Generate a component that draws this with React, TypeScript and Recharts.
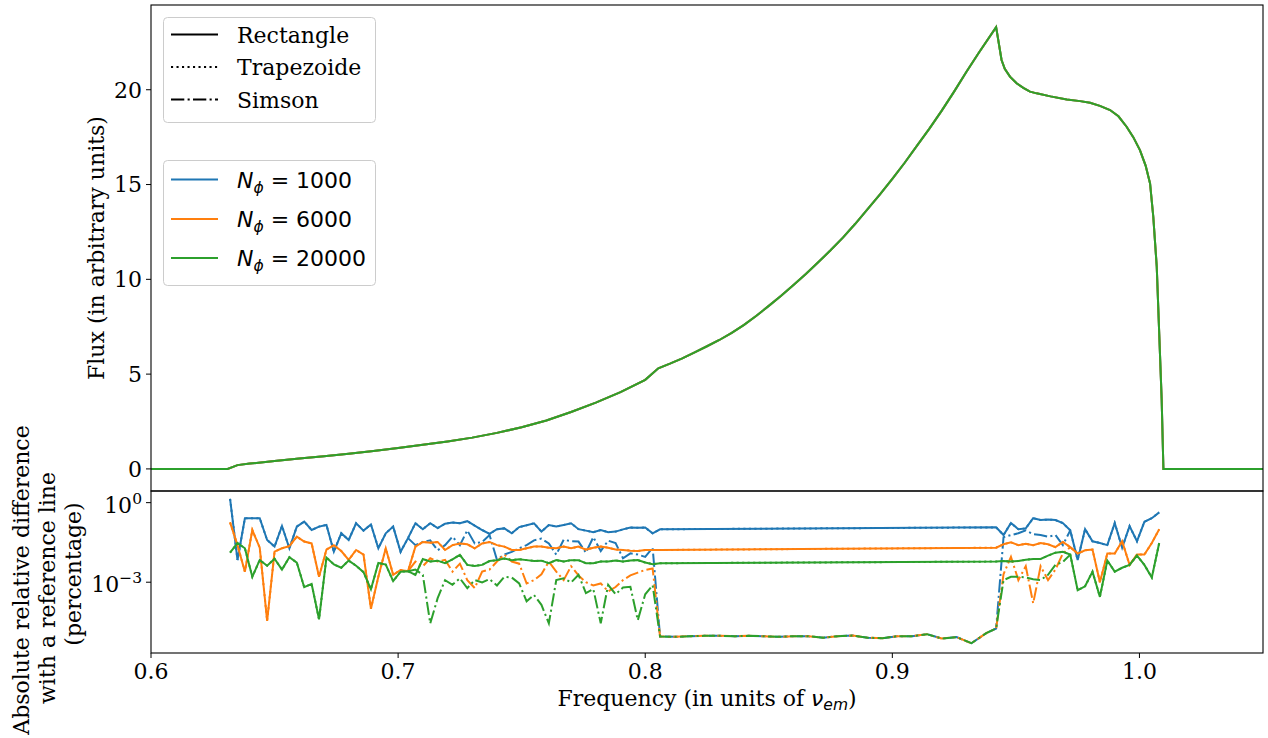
import React from "react";
import { LineChart, Line, XAxis, YAxis } from "recharts";

// ---- top panel: flux profile (the nine curves coincide, green is drawn last)
const fluxFreq = [
  0.6, 0.631, 0.635, 0.64, 0.65, 0.66, 0.67, 0.68, 0.69, 0.7, 0.71, 0.72, 0.73, 0.74, 0.75, 0.76, 0.77, 0.78, 0.79,
  0.8, 0.8053, 0.81, 0.815, 0.82, 0.825, 0.83, 0.835, 0.84, 0.845, 0.85, 0.855, 0.86, 0.865, 0.87, 0.875, 0.88, 0.885,
  0.89, 0.895, 0.9, 0.905, 0.91, 0.915, 0.92, 0.925, 0.93, 0.935, 0.942, 0.9442, 0.9455, 0.9476, 0.9503, 0.953,
  0.9557, 0.9584, 0.964, 0.9706, 0.976, 0.98, 0.984, 0.9881, 0.9915, 0.9948, 0.9975, 1.0002, 1.0025, 1.0043, 1.0056,
  1.007, 1.008, 1.009, 1.0097, 1.05,
];
const fluxValue = [
  0, 0, 0.2, 0.28, 0.42, 0.55, 0.67, 0.8, 0.94, 1.1, 1.27, 1.45, 1.65, 1.9, 2.2, 2.55, 3.0, 3.5, 4.05, 4.7, 5.31,
  5.55, 5.83, 6.15, 6.47, 6.8, 7.18, 7.6, 8.08, 8.6, 9.13, 9.7, 10.28, 10.9, 11.53, 12.2, 12.93, 13.7, 14.48, 15.3,
  16.15, 17.05, 17.95, 18.9, 19.9, 20.95, 21.95, 23.3, 21.57, 21.1, 20.69, 20.34, 20.1, 19.9, 19.81, 19.65, 19.49,
  19.4, 19.31, 19.15, 18.93, 18.6, 18.05, 17.5, 16.82, 16.0, 15.06, 13.3, 10.67, 7.15, 3.63, 0, 0,
];

// ---- bottom panel: relative differences (log scale)
const freqLow = [
  0.632, 0.635, 0.638, 0.641, 0.644, 0.647, 0.65, 0.653, 0.656, 0.659, 0.662, 0.665, 0.668, 0.671, 0.674, 0.677,
  0.68, 0.683, 0.686, 0.689, 0.692, 0.695, 0.698, 0.701, 0.704, 0.707, 0.71, 0.713, 0.716, 0.719, 0.722, 0.725,
  0.728, 0.731, 0.734, 0.737, 0.74, 0.743, 0.746, 0.749, 0.752, 0.755, 0.758, 0.761, 0.764, 0.767, 0.77, 0.773,
  0.776, 0.779, 0.782, 0.785, 0.788, 0.791, 0.794, 0.797, 0.8, 0.803, 0.806,
];
const freqMid = [
  0.812, 0.818, 0.824, 0.83, 0.836, 0.842, 0.848, 0.854, 0.86, 0.866, 0.872, 0.878, 0.884, 0.89, 0.896, 0.902, 0.908,
  0.914, 0.92, 0.926, 0.932, 0.938,
];
const freqHigh = [
  0.942, 0.945, 0.948, 0.951, 0.954, 0.957, 0.96, 0.963, 0.966, 0.969, 0.972, 0.975, 0.978, 0.981, 0.984, 0.987, 0.99,
  0.993, 0.996, 0.999, 1.002, 1.005, 1.008,
];

// Rectangle rule (Trapezoide gives the same values for this periodic integrand)
const rectBlueLow = [
  1.4, 0.0069, 0.257, 0.26, 0.257, 0.039, 0.022, 0.132, 0.019, 0.125, 0.193, 0.093, 0.125, 0.144, 0.0142, 0.07, 0.039,
  0.167, 0.088, 0.15, 0.019, 0.07, 0.125, 0.014, 0.046, 0.167, 0.1, 0.167, 0.11, 0.16, 0.18, 0.167, 0.2, 0.135, 0.093,
  0.066, 0.1, 0.107, 0.07, 0.12, 0.14, 0.167, 0.081, 0.144, 0.125, 0.144, 0.167, 0.1, 0.088, 0.077, 0.093, 0.077,
  0.081, 0.098, 0.115, 0.112, 0.115, 0.07, 0.099,
];
const rectOrangeLow = [
  0.18, 0.025, 0.0025, 0.093, 0.02, 3.5e-5, 0.0142, 0.019, 0.023, 0.052, 0.034, 0.029, 0.0016, 0.017, 0.025, 0.015,
  0.0069, 0.0164, 0.011, 1.0e-4, 0.0016, 0.019, 0.0019, 0.0029, 0.0026, 0.022, 0.033, 0.031, 0.033, 0.0164, 0.025,
  0.029, 0.027, 0.019, 0.029, 0.033, 0.025, 0.022, 0.0164, 0.0164, 0.019, 0.022, 0.022, 0.02, 0.019, 0.022, 0.019,
  0.022, 0.017, 0.02, 0.022, 0.02, 0.017, 0.0164, 0.0155, 0.015, 0.0164, 0.0164, 0.0164,
];
const rectGreenLow = [
  0.013, 0.03, 0.019, 0.0016, 0.0069, 0.0042, 0.0077, 0.003, 0.0087, 0.0055, 6.5e-4, 8.6e-4, 4.0e-5, 0.0085, 0.0047,
  0.0035, 0.0065, 0.0042, 0.0024, 5.4e-4, 0.0053, 0.0046, 0.0011, 0.0025, 0.0026, 0.0019, 0.0075, 0.006, 0.0065,
  0.0052, 0.0073, 0.0107, 0.0045, 0.0041, 0.0045, 0.0063, 0.0068, 0.0078, 0.0068, 0.0074, 0.0068, 0.0063, 0.0065,
  0.0052, 0.0068, 0.006, 0.0068, 0.0068, 0.0052, 0.0052, 0.006, 0.006, 0.0066, 0.006, 0.0066, 0.0068, 0.0055, 0.0048,
  0.0052,
];
const rectBlueHigh = [
  0.117, 0.06, 0.17, 0.1, 0.107, 0.26, 0.22, 0.23, 0.22, 0.17, 0.09, 0.0069, 0.1, 0.035, 0.03, 0.025, 0.17, 0.02, 0.13,
  0.035, 0.19, 0.26, 0.43,
];
const rectOrangeHigh = [
  0.02, 0.027, 0.032, 0.025, 0.028, 0.025, 0.03, 0.027, 0.021, 0.033, 0.021, 0.012, 0.016, 0.017, 0.001, 0.012, 0.012,
  0.035, 0.0045, 0.011, 0.011, 0.03, 0.1,
];
const rectGreenHigh = [
  0.006, 0.0063, 0.006, 0.0063, 0.007, 0.0075, 0.0075, 0.01, 0.013, 0.014, 0.011, 5e-4, 7e-4, 0.0025, 2.8e-4, 0.0066,
  0.0025, 0.0035, 0.0045, 0.01, 0.0045, 0.0015, 0.03,
];

// Simson rule: leaves the Rectangle curves at freqLow[24] and rejoins them at freqHigh[10]
const SIMP_START = 24;
const simpBlueLow = [
  0.046, 0.025, 0.033, 0.038, 0.016, 0.025, 0.052, 0.025, 0.09, 0.029, 0.033, 0.06, 0.007, 0.011, 0.014, 0.019, 0.025,
  0.038, 0.044, 0.029, 0.011, 0.04, 0.035, 0.034, 0.013, 0.05, 0.015, 0.037, 0.03, 0.008, 0.0123, 0.011, 0.009, 0.02,
  9e-6,
];
const simpOrangeLow = [
  0.0026, 0.006, 0.004, 0.008, 0.006, 0.007, 0.0025, 0.005, 0.0012, 0.0006, 0.0025, 0.003, 0.006, 0.011, 0.006, 0.005,
  0.0009, 0.0012, 0.002, 0.006, 0.0025, 0.0012, 0.004, 0.0018, 0.001, 0.00075, 0.0009, 0.00045, 0.00066, 0.0012,
  0.0018, 0.0023, 0.0029, 0.0033, 9e-6,
];
const simpGreenLow = [
  0.0026, 0.003, 0.0019, 2.8e-5, 2.5e-4, 0.0012, 8e-4, 0.0014, 6e-4, 0.0012, 9.8e-4, 0.0013, 7.5e-4, 0.0016, 0.0015,
  9e-4, 1.9e-4, 3.3e-4, 1.4e-4, 2.8e-5, 0.0012, 0.0014, 9.8e-4, 0.0019, 3.9e-4, 5.5e-4, 2.8e-5, 8e-4, 3.5e-4, 6.3e-4,
  6.7e-4, 3.7e-5, 3.5e-4, 7.7e-4, 9e-6,
];
// the three Simson curves coincide between 0.81 and 0.94
const simpsonMid = [
  8.7e-6, 9.2e-6, 9.5e-6, 9.5e-6, 9.2e-6, 9.5e-6, 9.2e-6, 8.7e-6, 9.2e-6, 9.2e-6, 8.1e-6, 9.2e-6, 9.7e-6, 8.1e-6,
  7.7e-6, 9.2e-6, 9.2e-6, 1.1e-5, 7.5e-6, 8.5e-6, 5e-6, 1.2e-5,
];
const simpBlueHigh = [1.8e-5, 0.05, 0.06, 0.07, 0.09, 0.065, 0.06, 0.052, 0.06, 0.025, 0.09];
const simpOrangeHigh = [1.8e-5, 0.002, 0.009, 0.0012, 0.004, 1.6e-4, 0.004, 0.0012, 0.003, 0.012, 0.021];
const simpGreenHigh = [1.8e-5, 0.0012, 0.0016, 0.0016, 0.0015, 0.0013, 0.0012, 0.0019, 0.0045, 0.0058, 0.011];

const xTicks = [0.6, 0.7, 0.8, 0.9, 1.0];
const fluxTicks = [0, 5, 10, 15, 20];
const diffTicks = [1e-3, 1];
const nLabels = ["1000", "6000", "20000"];
const methodLabels = ["Rectangle", "Trapezoide", "Simson"];
const diffLabelLines = ["Absolute relative difference", "with a reference line", "(percentage)"];

const BLUE = "#1f77b4";
const ORANGE = "#ff7f0e";
const GREEN = "#2ca02c";
const SERIF = "'DejaVu Serif', serif";
const SANS = "'DejaVu Sans', sans-serif";
const FS = 22;
const DOT = "2.1 3.4";
const DASHDOT = "13.3 3.3 2.1 3.3";

const fluxData = fluxFreq.map((f, i) => ({ f, flux: fluxValue[i] }));

const diffData = [
  ...freqLow.map((f, i) => ({
    f,
    rb: rectBlueLow[i],
    ro: rectOrangeLow[i],
    rg: rectGreenLow[i],
    sb: i >= SIMP_START ? simpBlueLow[i - SIMP_START] : null,
    so: i >= SIMP_START ? simpOrangeLow[i - SIMP_START] : null,
    sg: i >= SIMP_START ? simpGreenLow[i - SIMP_START] : null,
  })),
  ...freqMid.map((f, i) => ({
    f,
    rb: null,
    ro: null,
    rg: null,
    sb: simpsonMid[i],
    so: simpsonMid[i],
    sg: simpsonMid[i],
  })),
  ...freqHigh.map((f, i) => ({
    f,
    rb: rectBlueHigh[i],
    ro: rectOrangeHigh[i],
    rg: rectGreenHigh[i],
    sb: i < simpBlueHigh.length ? simpBlueHigh[i] : null,
    so: i < simpOrangeHigh.length ? simpOrangeHigh[i] : null,
    sg: i < simpGreenHigh.length ? simpGreenHigh[i] : null,
  })),
];

const tickStyle = { fontFamily: SERIF, fontSize: FS, fill: "#000" };

function LogTick(props: any) {
  const { x, y, payload } = props;
  const exp = Math.round(Math.log10(payload.value));
  return (
    <text x={x} y={y + 10} textAnchor="end" fontFamily={SERIF} fontSize={FS} fill="#000">
      10
      <tspan dy={-9} fontSize={15.5}>
        {exp === 0 ? "0" : "\u2212" + Math.abs(exp)}
      </tspan>
    </text>
  );
}

function Overlay() {
  const legendY1 = [34.5, 67, 99.5];
  const legendY2 = [179.5, 219, 258];
  const dashes = [undefined, DOT, DASHDOT];
  const colors = [BLUE, ORANGE, GREEN];
  const labelCenters = [580, 588, 574];
  return (
    <svg width={1268} height={738} style={{ position: "absolute", left: 0, top: 0, pointerEvents: "none" }}>
      <rect x={151} y={5} width={1112} height={486} fill="none" stroke="#000" strokeWidth={1.1} />
      <rect x={151} y={491} width={1112} height={162} fill="none" stroke="#000" strokeWidth={1.1} />

      <text transform="translate(104,248) rotate(-90)" textAnchor="middle" fontFamily={SERIF} fontSize={FS}>
        Flux (in arbitrary units)
      </text>
      {diffLabelLines.map((s, i) => (
        <text
          key={s}
          transform={`translate(${29 + i * 26},${labelCenters[i]}) rotate(-90)`}
          textAnchor="middle"
          fontFamily={SERIF}
          fontSize={FS}
        >
          {s}
        </text>
      ))}
      <text x={707} y={706} textAnchor="middle" fontFamily={SERIF} fontSize={FS}>
        Frequency (in units of{" "}
        <tspan fontFamily={SANS} fontStyle="italic">
          ν
        </tspan>
        <tspan fontFamily={SANS} fontStyle="italic" fontSize={15.5} dy={4}>
          em
        </tspan>
        <tspan dy={-4}>)</tspan>
      </text>

      <rect x={163.5} y={17.5} width={212} height={105} rx={4} fill="#fff" fillOpacity={0.8} stroke="#ccc" />
      {methodLabels.map((m, i) => (
        <g key={m}>
          <line x1={171} x2={218} y1={legendY1[i]} y2={legendY1[i]} stroke="#000" strokeWidth={2} strokeDasharray={dashes[i]} />
          <text x={237} y={legendY1[i] + 8} fontFamily={SERIF} fontSize={FS}>
            {m}
          </text>
        </g>
      ))}

      <rect x={163.5} y={160.5} width={212} height={125} rx={4} fill="#fff" fillOpacity={0.8} stroke="#ccc" />
      {nLabels.map((n, i) => (
        <g key={n}>
          <line x1={171} x2={218} y1={legendY2[i]} y2={legendY2[i]} stroke={colors[i]} strokeWidth={2} />
          <text x={237} y={legendY2[i] + 8} fontFamily={SANS} fontSize={FS}>
            <tspan fontStyle="italic">N</tspan>
            <tspan fontStyle="italic" fontSize={15.5} dy={5}>
              ϕ
            </tspan>
            <tspan dy={-5}>{" = " + n}</tspan>
          </text>
        </g>
      ))}
    </svg>
  );
}

export default function App() {
  return (
    <div
      style={{
        position: "absolute",
        left: 0,
        top: 0,
        width: 1268,
        height: 738,
        overflow: "hidden",
        background: "#fff",
      }}
    >
      <div style={{ position: "absolute", left: 0, top: 0 }}>
        <LineChart width={1268} height={500} data={fluxData} margin={{ top: 5, right: 5, left: 0, bottom: 9 }}>
          <XAxis dataKey="f" type="number" domain={[0.6, 1.05]} allowDataOverflow hide />
          <YAxis
            type="number"
            domain={[-1.165, 24.47]}
            ticks={fluxTicks}
            allowDataOverflow
            width={151}
            axisLine={false}
            tickLine={{ stroke: "#000" }}
            tickSize={5}
            tickMargin={4}
            tick={tickStyle}
            interval={0}
          />
          <Line dataKey="flux" stroke={BLUE} strokeWidth={2} dot={false} isAnimationActive={false} />
          <Line dataKey="flux" stroke={ORANGE} strokeWidth={2} dot={false} isAnimationActive={false} />
          <Line dataKey="flux" stroke={GREEN} strokeWidth={2} dot={false} isAnimationActive={false} />
        </LineChart>
      </div>
      <div style={{ position: "absolute", left: 0, top: 480 }}>
        <LineChart width={1268} height={258} data={diffData} margin={{ top: 11, right: 5, left: 0, bottom: 0 }}>
          <XAxis
            dataKey="f"
            type="number"
            domain={[0.6, 1.05]}
            allowDataOverflow
            ticks={xTicks}
            interval={0}
            tickFormatter={(v: number) => v.toFixed(1)}
            height={85}
            axisLine={false}
            tickLine={{ stroke: "#000" }}
            tickSize={5}
            tickMargin={5}
            tick={tickStyle}
          />
          <YAxis
            type="number"
            scale="log"
            domain={[2.14e-6, 2.75]}
            allowDataOverflow
            ticks={diffTicks}
            interval={0}
            width={151}
            axisLine={false}
            tickLine={{ stroke: "#000" }}
            tickSize={5}
            tickMargin={4}
            tick={<LogTick />}
          />
          <Line dataKey="rb" stroke={BLUE} strokeWidth={2} dot={false} connectNulls isAnimationActive={false} />
          <Line dataKey="rb" stroke={BLUE} strokeWidth={2} strokeDasharray={DOT} dot={false} connectNulls isAnimationActive={false} />
          <Line dataKey="sb" stroke={BLUE} strokeWidth={2} strokeDasharray={DASHDOT} dot={false} isAnimationActive={false} />
          <Line dataKey="ro" stroke={ORANGE} strokeWidth={2} dot={false} connectNulls isAnimationActive={false} />
          <Line dataKey="ro" stroke={ORANGE} strokeWidth={2} strokeDasharray={DOT} dot={false} connectNulls isAnimationActive={false} />
          <Line dataKey="so" stroke={ORANGE} strokeWidth={2} strokeDasharray={DASHDOT} dot={false} isAnimationActive={false} />
          <Line dataKey="rg" stroke={GREEN} strokeWidth={2} dot={false} connectNulls isAnimationActive={false} />
          <Line dataKey="rg" stroke={GREEN} strokeWidth={2} strokeDasharray={DOT} dot={false} connectNulls isAnimationActive={false} />
          <Line dataKey="sg" stroke={GREEN} strokeWidth={2} strokeDasharray={DASHDOT} dot={false} isAnimationActive={false} />
        </LineChart>
      </div>
      <Overlay />
    </div>
  );
}
